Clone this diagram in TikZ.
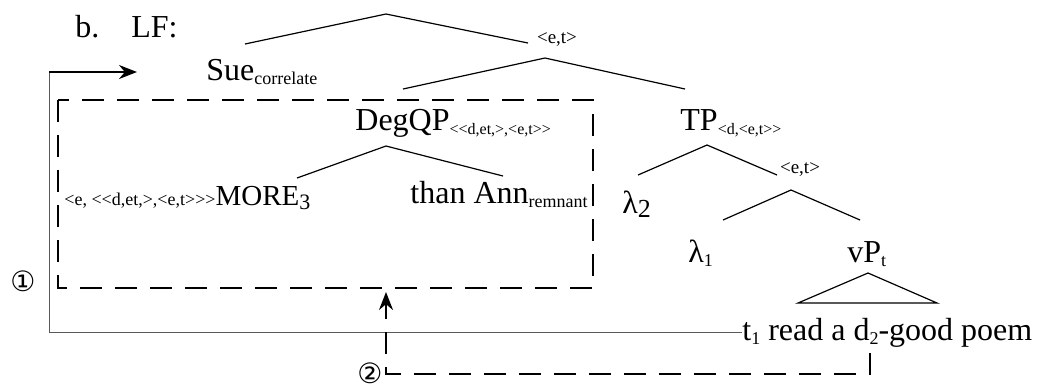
\documentclass[tikz,border=0pt]{standalone}
\usepackage{fontspec}
\setmainfont{Liberation Serif}
\newfontfamily\circfont{DejaVu Sans}
\usetikzlibrary{arrows.meta}

\newcommand\lfsub[2][9]{\raisebox{-0.3ex}{\fontsize{#1}{#1}\selectfont #2}}
\newcommand\lftype[2][8]{{\fontsize{#1}{#1}\selectfont #2}}

\tikzset{
  word/.style={inner sep=0pt, anchor=base west, font=\fontsize{16}{19}\selectfont},
  typelab/.style={inner sep=0pt, font=\fontsize{9.5}{10}\selectfont},
  branch/.style={line width=0.6pt},
  movebox/.style={line width=1pt, dash pattern=on 11pt off 6.5pt},
  trace/.style={gray!70!black, line width=0.5pt},
  movetip/.style={-{Stealth[length=9pt,width=7pt]}},
  circlab/.style={inner sep=0pt, font=\circfont\fontsize{14}{14}\selectfont},
}

\begin{document}
\begin{tikzpicture}[x=0.5pt,y=-0.5pt]
    \useasboundingbox (0,0) rectangle (1048,388);

    \node[word] (lab) at (75,37) {b.\quad LF:};

    % nodi dell'albero
    \node[word] (sue) at (206,80) {Sue\lfsub{correlate}};
    \node[typelab] (et1) at (557,40) {<e,t>};
    \node[word] (degqp) at (355,130) {DegQP\lfsub[8]{<{}<d,et,>,<e,t>{}>}};
    \node[word] (tp) at (680,130) {TP\lfsub[8]{<d,<e,t>{}>}};
    \node[word] (more) at (64,205) {\lftype[9]{<e, <{}<d,et,>,<e,t>{}>{}>}\lftype[14.5]{MORE}\lfsub[11]{3}};
    \node[word] (than) at (410,203) {than Ann\lfsub{remnant}};
    \node[word] (lamtwo) at (622,213) {λ\lfsub[13]{2}};
    \node[typelab] (et2) at (800,170) {<e,t>};
    \node[word] (lamone) at (688,262) {λ\lfsub{1}};
    \node[word] (vp) at (847,262) {vP\lfsub{t}};
    \node[word] (tone) at (742,340) {t\lfsub{1} read a d\lfsub{2}-good poem};

    % rami
    \coordinate (r0) at (386,14);   \coordinate (r0l) at (245,44);  \coordinate (r0r) at (528,43);
    \coordinate (r1) at (545,58);   \coordinate (r1l) at (403,89);  \coordinate (r1r) at (685,89);
    \coordinate (dq) at (386,146);  \coordinate (dql) at (297,178); \coordinate (dqr) at (503,176);
    \coordinate (tq) at (707,145);  \coordinate (tql) at (638,175); \coordinate (tqr) at (777,175);
    \coordinate (eq) at (791,190);  \coordinate (eql) at (723,220); \coordinate (eqr) at (860,220);
    \coordinate (vq) at (868,273);  \coordinate (vql) at (798,303); \coordinate (vqr) at (937,303);
    \draw[branch] (r0l) -- (r0) -- (r0r);
    \draw[branch] (r1l) -- (r1) -- (r1r);
    \draw[branch] (dql) -- (dq) -- (dqr);
    \draw[branch] (tql) -- (tq) -- (tqr);
    \draw[branch] (eql) -- (eq) -- (eqr);
    \draw[branch] (vql) -- (vq) -- (vqr) -- cycle;

    % scatola tratteggiata e movimenti
    \coordinate (boxa) at (58,100);
    \coordinate (boxb) at (593,288);
    \draw[movebox] (boxa) rectangle (boxb);

    \coordinate (upone) at (49,72);
    \coordinate (tipone) at (137,72);
    \draw[trace] (tone.west) -| (upone);
    \draw[movetip, line width=0.8pt] (upone) -- (tipone);

    \coordinate (dtwo) at (870,353);
    \coordinate (cornertwo) at (386,374);
    \coordinate (tiptwo) at (386,292);
    \draw[movebox, movetip] (dtwo) |- (cornertwo) -- (tiptwo);

    \node[circlab] (one) at (23,281) {①};
    \node[circlab] (two) at (370,373) {②};
\end{tikzpicture}
\end{document}
